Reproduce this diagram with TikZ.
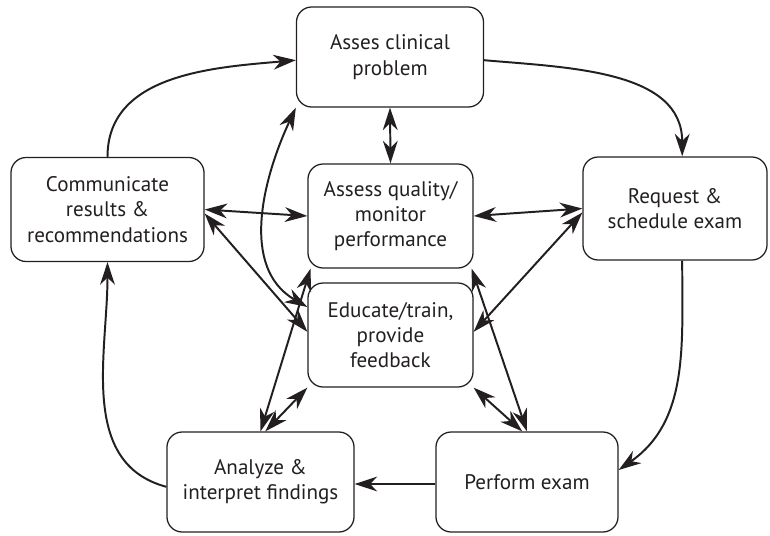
\documentclass[tikz,border=0pt]{standalone}
\usepackage{fontspec}
\setmainfont{PT Sans}
\usepackage{tikz}
\usepackage{xcolor}
\usetikzlibrary{arrows.meta,positioning,calc}
\definecolor{inkgray}{RGB}{35,31,32}

\begin{document}
\begin{tikzpicture}[x=0.025cm, y=-0.025cm,
  >={Stealth[length=16pt,width=10.5pt,inset=5pt]},
  every node/.style={font=\fontsize{15}{18}\selectfont, text=inkgray},
  stage/.style={draw=inkgray, rounded corners=0.38cm, line width=0.9pt, align=center, inner sep=2pt},
  flow/.style={->, draw=inkgray, line width=1.4pt},
  link/.style={<->, draw=inkgray, line width=1.4pt}]
\useasboundingbox (0,0) rectangle (770,535);
\node[stage,minimum width=4.675cm,minimum height=2.5cm] (prob) at (390,57) {Asses clinical\\problem};
\node[stage,minimum width=4.825cm,minimum height=2.6cm] (comm) at (107.5,209.5) {Communicate\\results \&\\recommendations};
\node[stage,minimum width=4.125cm,minimum height=2.6cm] (qual) at (390.5,216) {Assess quality/\\monitor\\performance};
\node[stage,minimum width=4.125cm,minimum height=2.6cm] (edu) at (390.5,335) {Educate/train,\\provide\\feedback};
\node[stage,minimum width=4.6cm,minimum height=2.575cm] (req) at (675,208.5) {Request \&\\schedule exam};
\node[stage,minimum width=4.675cm,minimum height=2.5cm] (anl) at (260.5,482) {Analyze \&\\interpret findings};
\node[stage,minimum width=4.55cm,minimum height=2.5cm] (perf) at (527,482) {Perform exam};
% main cycle
\draw[flow] (comm.north) to[out=90,in=185] ([yshift=-0.08cm]prob.west);
\draw[flow] ([yshift=-0.08cm]prob.east) to[out=-5,in=90] ([xshift=0.18cm]req.north);
\draw[flow] ([xshift=0.18cm]req.south) to[out=-90,in=35] ([yshift=0.3cm]perf.east);
\draw[flow] ([yshift=-0.05cm]perf.west) -- ([yshift=-0.05cm]anl.west -| anl.east);
\draw[flow] ([yshift=-0.12cm]anl.west) to[out=165,in=-90] (comm.south);
% links to the centre
\draw[link] (prob.south) -- (qual.north);
\draw[link] (comm.east) -- (qual.west);
\draw[link] (qual.east) -- (req.west);
\draw[link] ([yshift=-0.1cm]comm.east) -- ([yshift=0.08cm]edu.west);
\draw[link] ([yshift=-0.1cm]req.west) -- ([yshift=0.08cm]edu.east);
\draw[link] ([yshift=0.7cm]edu.west) to[out=150,in=245] (prob.south west);
\draw[link] (anl.north) -- ([xshift=0.08cm]qual.south west);
\draw[link] ([xshift=0.12cm]anl.north) -- (edu.south west);
\draw[link] (perf.north) -- ([xshift=-0.05cm]qual.south east);
\draw[link] ([xshift=-0.12cm]perf.north) -- (edu.south east);
\end{tikzpicture}
\end{document}
